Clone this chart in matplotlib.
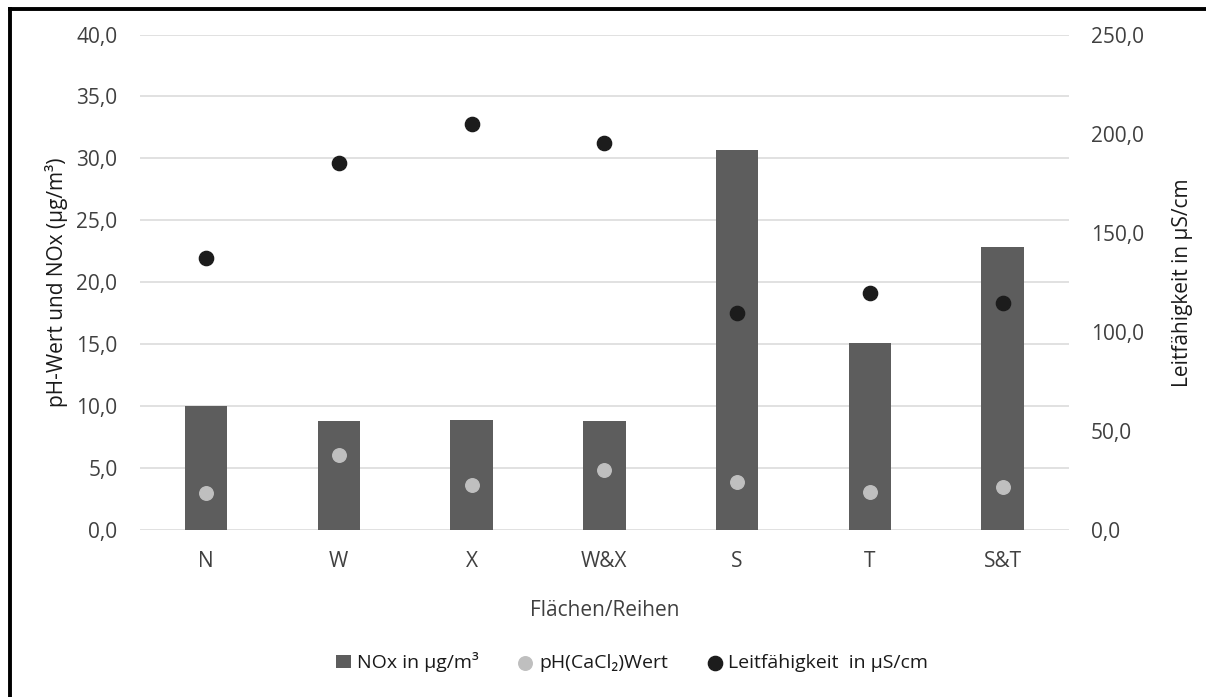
import matplotlib
matplotlib.use("Agg")
import matplotlib.pyplot as plt
from matplotlib.lines import Line2D
from matplotlib.ticker import FuncFormatter

plt.rcParams['font.family'] = ['Open Sans', 'DejaVu Sans']

# data
categories = ['N', 'W', 'X', 'W&X', 'S', 'T', 'S&T']
nox = [10.0, 8.8, 8.9, 8.8, 30.7, 15.1, 22.9]
ph_cacl2 = [3.0, 6.1, 3.7, 4.9, 3.9, 3.1, 3.5]
leitfaehigkeit = [137.2, 185.0, 204.9, 195.2, 109.5, 119.9, 114.8]

fig = plt.figure(figsize=(12.06, 6.97), dpi=100, facecolor='white')
ax = fig.add_axes([0.1158, 0.2389, 0.7705, 0.7116])
ax2 = ax.twinx()

x = range(len(categories))
bars = ax.bar(x, nox, width=0.32, color='#5d5d5d', zorder=2, label='NOx in µg/m³')
ph_pts = ax.scatter(x, ph_cacl2, s=95, color='#bfbfbf', zorder=3, label='pH(CaCl₂)Wert')
lf_pts = ax2.scatter(x, leitfaehigkeit, s=105, color='#1c1c1c', zorder=3,
                     label='Leitfähigkeit  in µS/cm')

comma = lambda v, pos: f"{v:.1f}".replace('.', ',')
ax.set_ylim(0, 40)
ax.set_yticks(range(0, 41, 5))
ax.yaxis.set_major_formatter(FuncFormatter(comma))
ax2.set_ylim(0, 250)
ax2.set_yticks(range(0, 251, 50))
ax2.yaxis.set_major_formatter(FuncFormatter(comma))

ax.set_xlim(-0.5, len(categories) - 0.5)
ax.set_xticks(list(x))
ax.set_xticklabels(categories)

ax.grid(axis='y', color='#d9d9d9', linewidth=1.1, zorder=0)
ax.set_axisbelow(True)
for a in (ax, ax2):
    for s in a.spines.values():
        s.set_visible(False)
    a.tick_params(length=0, labelsize=15, colors='#404040')
ax.tick_params(axis='y', pad=16)
ax.tick_params(axis='x', pad=15)
ax2.tick_params(axis='y', pad=16)

ax.set_ylabel('pH-Wert und NOx (µg/m³)', fontsize=15, color='#1a1a1a', labelpad=6)
ax2.set_ylabel('Leitfähigkeit in µS/cm', fontsize=15, color='#1a1a1a', labelpad=20)
ax.set_xlabel('Flächen/Reihen', fontsize=15, color='#404040', labelpad=20)

fig.legend([bars, ph_pts, lf_pts],
           ['NOx in µg/m³', 'pH(CaCl₂)Wert', 'Leitfähigkeit  in µS/cm'],
           loc='center', bbox_to_anchor=(0.524, 0.05), ncol=3,
           frameon=False, fontsize=14, handlelength=0.8, handletextpad=0.3,
           columnspacing=2.0, labelcolor='#1a1a1a')

# black frame on left and top edges
fig.add_artist(Line2D([0.0085, 0.0085], [0.0, 0.9875], transform=fig.transFigure,
                      color='black', linewidth=2.8))
fig.add_artist(Line2D([0.0085, 1.0], [0.9875, 0.9875], transform=fig.transFigure,
                      color='black', linewidth=2.8))

fig.savefig('out.png', dpi=100, facecolor='white')
